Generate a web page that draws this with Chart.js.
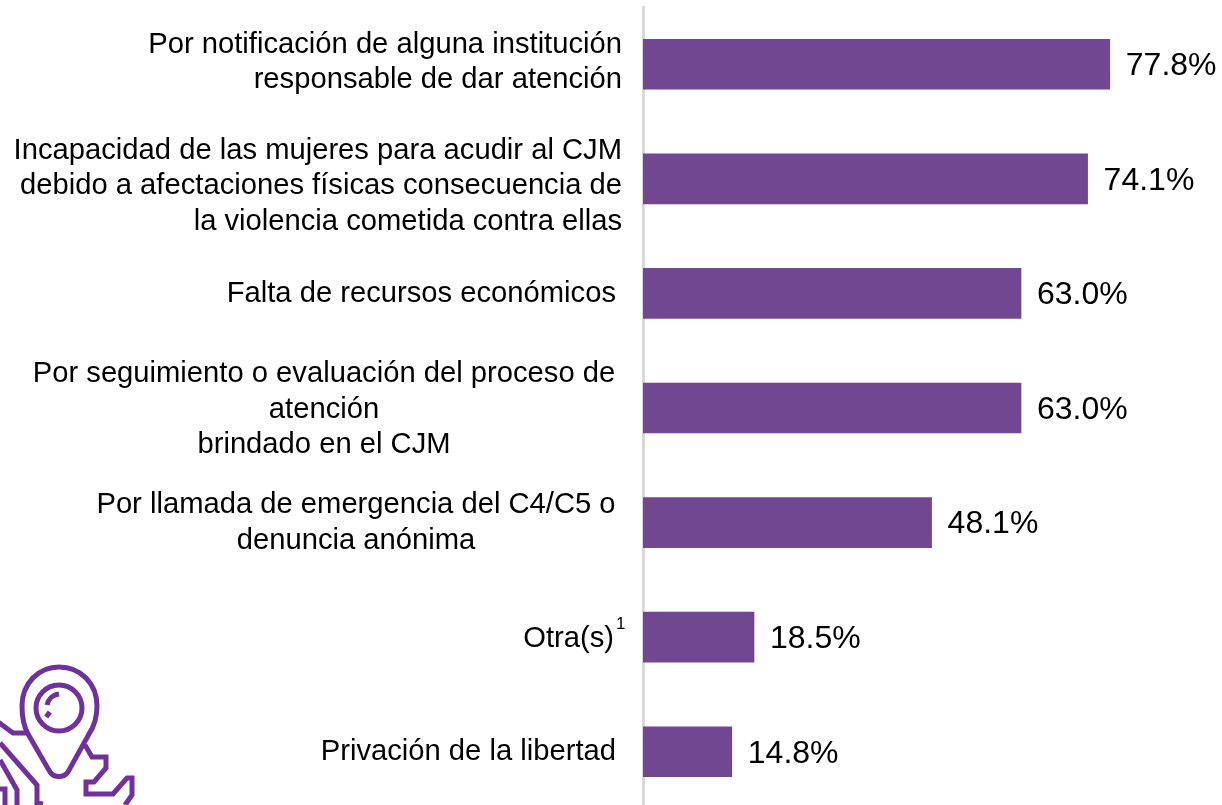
<!DOCTYPE html>
<html lang="es">
<head>
<meta charset="utf-8">
<title>Motivos</title>
<script src="https://cdn.jsdelivr.net/npm/chart.js@4"></script>
<style>
    html, body { margin: 0; padding: 0; background: #fff; overflow: hidden; width: 1222px; height: 805px; }
    #wrap { position: relative; width: 1222px; height: 805px; overflow: hidden; }
    canvas { position: absolute; left: 0; top: 0; }
    #icon { position: absolute; left: 0; top: 600px; }
</style>
</head>
<body>
<div id="wrap">
    <canvas id="barChart" width="1222" height="809"></canvas>
    <svg id="icon" width="200" height="205" viewBox="0 0 200 205" fill="none" stroke="#7030a0" stroke-width="5">
        <path d="M50 172 L28 134 C23 125 22 117 22 106 C22 83 39 67 59 67 C80 67 97 83 97 106 C97 117 95 125 89 134 L68 172 C64 178 54 178 50 172 Z"/>
        <circle cx="59" cy="108" r="23"/>
        <path d="M59 94 C52 95 48 100 47 105"/>
        <path d="M46 113 L50 116" stroke-width="6"/>
        <path d="M-3 121 L13 133 L27 133"/>
        <path d="M0 143 L37 185 L37 203 L43 204"/>
        <path d="M0 160 L17 190 L17 205"/>
        <path d="M0 189 L5 189 L5 205"/>
        <path d="M85 145 L92 157 L106 157 L106 168 L94 182 L86 182 L86 194 L113 194 L127 178 L132 178 L132 195 L125 205"/>
    </svg>
</div>

<script>
const categories = [
    "Por notificación de alguna institución responsable de dar atención",
    "Incapacidad de las mujeres para acudir al CJM debido a afectaciones físicas consecuencia de la violencia cometida contra ellas",
    "Falta de recursos económicos",
    "Por seguimiento o evaluación del proceso de atención brindado en el CJM",
    "Por llamada de emergencia del C4/C5 o denuncia anónima",
    "Otra(s)",
    "Privación de la libertad"
];
const values = [77.8, 74.1, 63.0, 63.0, 48.1, 18.5, 14.8];

const labelLines = [
    ["Por notificación de alguna institución", "responsable de dar atención"],
    ["Incapacidad de las mujeres para acudir al CJM", "debido a afectaciones físicas consecuencia de", "la violencia cometida contra ellas"],
    ["Falta de recursos económicos"],
    ["Por seguimiento o evaluación del proceso de", "atención", "brindado en el CJM"],
    ["Por llamada de emergencia del C4/C5 o", "denuncia anónima"],
    ["Otra(s)"],
    ["Privación de la libertad"]
];

// how each label block sits next to its bar
const labelAlign = ["right", "right", "right", "center", "center", "right", "right"];
const labelX = [622, 622, 616, 324, 356, 614, 616];
const labelShift = [-1.5, 7.5, 0.5, 1.5, 0.5, 2, 0];

const labelFont = "29.2px 'Liberation Sans', Arial, sans-serif";
const valueFont = "32px 'Liberation Sans', Arial, sans-serif";

const barLabels = {
    id: "barLabels",
    afterDatasetsDraw(chart) {
        const ctx = chart.ctx;
        const x = chart.scales.x;
        const y = chart.scales.y;
        const lineHeight = 35.3;

        ctx.save();
        ctx.fillStyle = "#000";
        ctx.textBaseline = "middle";

        // Category text
        ctx.font = labelFont;
        labelLines.forEach((lines, i) => {
            ctx.textAlign = labelAlign[i];
            const mid = y.getPixelForValue(i) + labelShift[i];
            lines.forEach((line, n) => {
                ctx.fillText(line, labelX[i], mid + (n - (lines.length - 1) / 2) * lineHeight);
            });
        });

        // Footnote mark on Otra(s)
        ctx.textAlign = "left";
        ctx.font = "17px 'Liberation Sans', Arial, sans-serif";
        ctx.fillText("1", 616, y.getPixelForValue(5) - 13);

        // Values
        ctx.font = valueFont;
        values.forEach((v, i) => {
            ctx.fillText(v.toFixed(1) + "%", x.getPixelForValue(v) + 16, y.getPixelForValue(i) + 2);
        });
        ctx.restore();
    }
};

new Chart(document.getElementById("barChart"), {
    type: "bar",
    data: {
        labels: categories,
        datasets: [{
            data: values,
            backgroundColor: "#724791",
            barThickness: 50
        }]
    },
    options: {
        indexAxis: "y",
        responsive: false,
        animation: false,
        layout: { padding: { left: 643, top: 7, right: 0, bottom: 0 } },
        plugins: {
            legend: { display: false },
            tooltip: { enabled: false }
        },
        scales: {
            x: {
                display: false,
                min: 0,
                max: 96.5
            },
            y: {
                grid: { display: false, drawTicks: false },
                border: { display: true, color: "#d9d9d9", width: 3 },
                ticks: { display: false }
            }
        }
    },
    plugins: [barLabels]
});
</script>
</body>
</html>
